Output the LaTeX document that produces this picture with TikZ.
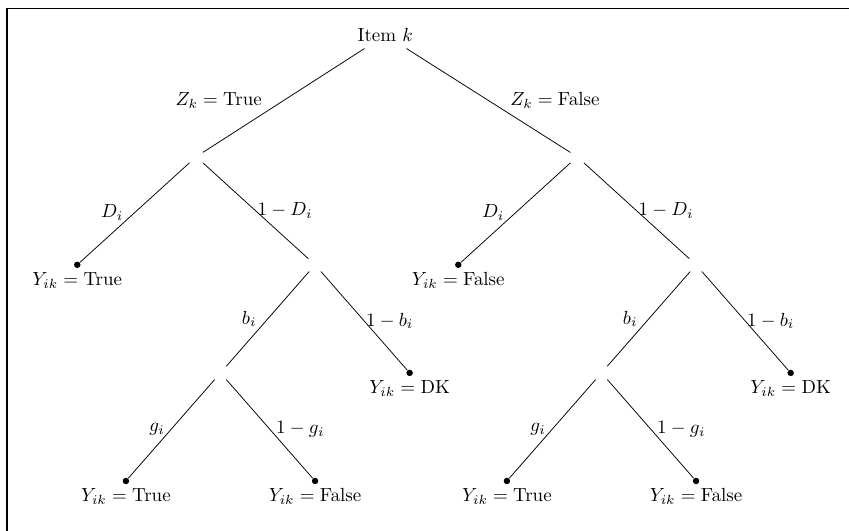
\documentclass[tikz,border=0pt]{standalone}
\usepackage{amsmath,amssymb}
\usepackage{tikz}
\usetikzlibrary{positioning}

\begin{document}
\begin{tikzpicture}[
      on grid,
      outcome/.style={
        circle, fill=black,
        inner sep=1.2pt,
        label={[label distance=-1.5pt]below:#1}
      },
      prob/.style={xshift=-2.5pt},
      frame/.style={line width=1pt}
    ]
      \useasboundingbox (0,0) rectangle (15.71,-9.81);
      \draw[frame] (0.13,-9.9) -- (0.13,-0.157) -- (15.8,-0.157);

      % top split
      \node (root) at (7.13,-0.65) {Item $k$};
      \node (L) [below left=2.25cm and 3.5cm of root] {};
      \node (R) [below right=2.25cm and 3.55cm of root] {};

      % Z_k true
      \node[outcome={$Y_{ik} = \mathrm{True}$}] (LL) [below left=2cm and 2.2cm of L] {};
      \node (LR) [below right=2cm and 2.2cm of L] {};
      \node (LRL) [below left=2cm and 1.75cm of LR] {};
      \node[outcome={$Y_{ik} = \mathrm{DK}$}] (LRR) [below right=2cm and 1.75cm of LR] {};
      \node[outcome={$Y_{ik} = \mathrm{True}$}] (LRLL) [below left=2cm and 1.75cm of LRL] {};
      \node[outcome={$Y_{ik} = \mathrm{False}$}] (LRLR) [below right=2cm and 1.75cm of LRL] {};

      % Z_k false
      \node[outcome={$Y_{ik} = \mathrm{False}$}] (RL) [below left=2cm and 2.2cm of R] {};
      \node (RR) [below right=2cm and 2.2cm of R] {};
      \node (RRL) [below left=2cm and 1.75cm of RR] {};
      \node[outcome={$Y_{ik} = \mathrm{DK}$}] (RRR) [below right=2cm and 1.75cm of RR] {};
      \node[outcome={$Y_{ik} = \mathrm{True}$}] (RRLL) [below left=2cm and 1.75cm of RRL] {};
      \node[outcome={$Y_{ik} = \mathrm{False}$}] (RRLR) [below right=2cm and 1.75cm of RRL] {};

      \draw (root) -- node[left=8pt] {$Z_k = \mathrm{True}$} (L);
      \draw (root) -- node[right=8pt] {$Z_k = \mathrm{False}$} (R);

      \draw (L) -- node[left, prob] {$D_i$} (LL);
      \draw (L) -- node[right, prob] {$1 - D_i$} (LR);
      \draw (LR) -- node[left, prob] {$b_i$} (LRL);
      \draw (LR) -- node[right, prob] {$1 - b_i$} (LRR);
      \draw (LRL) -- node[left] {$g_i$} (LRLL);
      \draw (LRL) -- node[right] {$1 - g_i$} (LRLR);

      \draw (R) -- node[left, prob] {$D_i$} (RL);
      \draw (R) -- node[right, prob] {$1 - D_i$} (RR);
      \draw (RR) -- node[left, prob] {$b_i$} (RRL);
      \draw (RR) -- node[right, prob] {$1 - b_i$} (RRR);
      \draw (RRL) -- node[left] {$g_i$} (RRLL);
      \draw (RRL) -- node[right] {$1 - g_i$} (RRLR);
    \end{tikzpicture}
\end{document}
